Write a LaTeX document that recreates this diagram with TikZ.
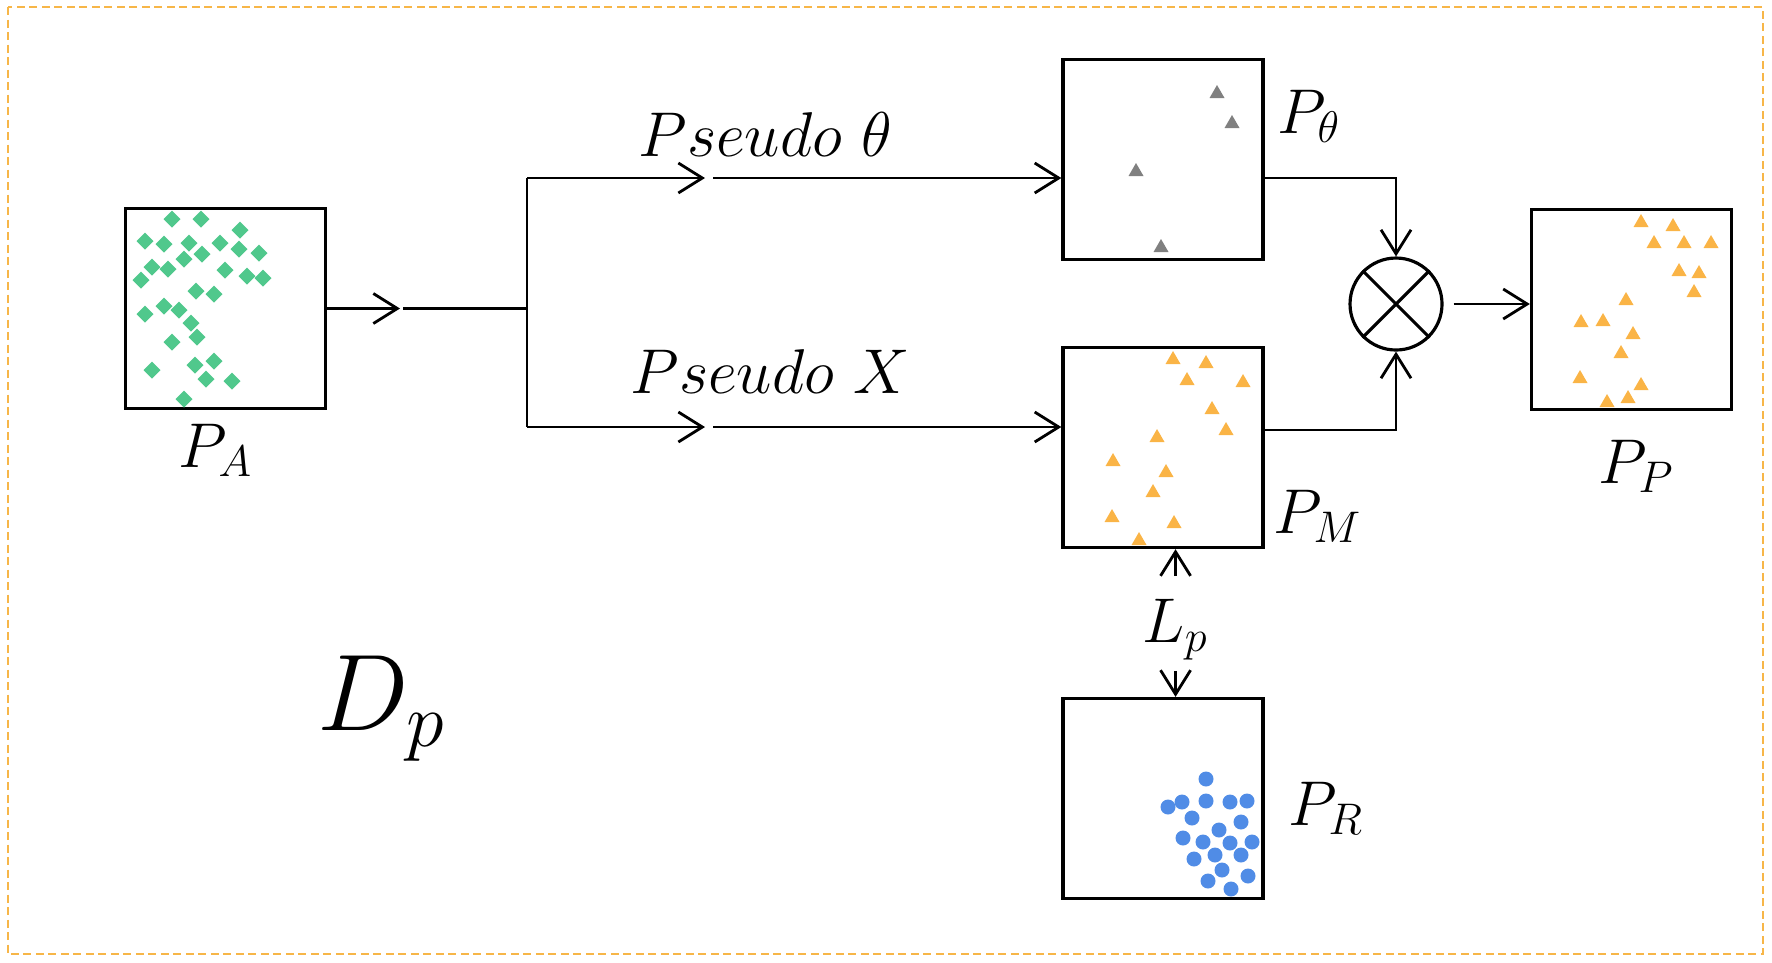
\documentclass[tikz,border=0pt]{standalone}
\usepackage{fix-cm}
\usetikzlibrary{arrows.meta, positioning}
\definecolor{frameorange}{RGB}{247,182,72}
\definecolor{dotgreen}{RGB}{80,200,140}
\definecolor{dotgrey}{RGB}{128,128,128}
\definecolor{dotorange}{RGB}{250,180,70}
\definecolor{dotblue}{RGB}{80,140,230}
\tikzstyle{arrow} = [line width=0.8pt,->,>={Straight Barb[length=2.4mm,width=3mm]}]
\tikzstyle{wire} = [line width=0.8pt]
\tikzstyle{plotbox} = [rectangle, minimum width=20mm, minimum height=20mm, draw=black, line width=0.95pt]
\tikzstyle{mulnode} = [circle, minimum size=9.2mm, inner sep=0pt, draw=black, line width=0.9pt]
\tikzstyle{plabel} = [inner sep=0pt, anchor=base west, font=\fontsize{18}{22}\selectfont]

\begin{document}
\begin{tikzpicture}[x=0.1mm, y=-0.1mm]
	\useasboundingbox (0,0) rectangle (1772,962);
	\draw[frameorange, line width=0.2mm, dash pattern=on 0.8mm off 0.45mm] (8,7) rectangle (1763,954);

	% boxes
	\node (pa) [plotbox] at (225.5,308.5) {};
	\node (pt) [plotbox] at (1163,159.5) {};
	\node (pm) [plotbox] at (1163,447.5) {};
	\node (pr) [plotbox] at (1163,798.5) {};
	\node (pp) [plotbox] at (1631.5,309.5) {};
	\node (mul) [mulnode] at (1396,304) {};
	\draw[line width=0.9pt] (mul.north west) -- (mul.south east) (mul.north east) -- (mul.south west);

	% points
	\foreach \x/\y in {172/219,201/219,240/230,145/241,164/244,189/243,220/243,239/249,259/253,202/254,184/259,152/267,168/269,225/270,247/276,263/278,141/280,196/291,214/294,145/314,164/306,179/310,191/323,197/337,172/342,152/370,195/365,214/361,206/379,232/381,184/399}
		\fill[dotgreen] (\x,\y) +(0,-8.5) -- +(8.5,0) -- +(0,8.5) -- +(-8.5,0) -- cycle;
	\foreach \x/\y in {1217/93,1232/123,1136/171,1161/247}
		\fill[dotgrey] (\x,\y) +(0,-8) -- +(7.5,5) -- +(-7.5,5) -- cycle;
	\foreach \x/\y in {1173/359,1206/363,1187/380,1243/382,1212/409,1226/430,1157/437,1113/461,1166/472,1153/492,1112/517,1174/523,1139/540}
		\fill[dotorange] (\x,\y) +(0,-8) -- +(7.5,5) -- +(-7.5,5) -- cycle;
	\foreach \x/\y in {1641/222,1673/226,1654/243,1684/243,1711/243,1679/271,1699/273,1694/292,1626/300,1581/322,1603/321,1633/334,1621/353,1580/378,1641/385,1628/398,1607/402}
		\fill[dotorange] (\x,\y) +(0,-8) -- +(7.5,5) -- +(-7.5,5) -- cycle;
	\foreach \x/\y in {1206/779,1182/802,1168/807,1206/801,1230/802,1247/801,1192/818,1241/822,1219/830,1183/838,1203/842,1230/843,1252/842,1194/859,1215/855,1241/855,1222/870,1248/876,1208/881,1231/889}
		\fill[dotblue] (\x,\y) circle (0.75mm);

	% labels
	\node (lpa) [plabel] at (178,467) {$P_A$};
	\node (lpt) [plabel] at (1277,133) {$P_\theta$};
	\node (lpm) [plabel] at (1273,533) {$P_M$};
	\node (lpr) [plabel] at (1288,825) {$P_R$};
	\node (lpp) [plabel] at (1598,483) {$P_P$};
	\node (lp) [plabel] at (1142,642) {$L_p$};
	\node (ltheta) [plabel] at (638,156) {$Pseudo\ \theta$};
	\node (lx) [plabel] at (630,393) {$Pseudo\ X$};
	\node (dp) [plabel, font=\fontsize{31}{36}\selectfont] at (317,730) {$D_p$};

	% connectors
	\coordinate (tipa) at (400,308.5);
	\coordinate (split) at (527,308.5);
	\coordinate (uptop) at (527,178);
	\coordinate (upmid) at (705,178);
	\coordinate (lotop) at (527,427);
	\coordinate (lomid) at (705,427);
	\draw[arrow] (pa.east) -- (tipa);
	\draw[wire] ([xshift=0.3mm]tipa) -- (split);
	\draw[wire] (uptop) -- (lotop);
	\draw[arrow] (uptop) -- (upmid);
	\draw[arrow] ([xshift=0.8mm]upmid) -- (upmid -| pt.west);
	\draw[arrow] (lotop) -- (lomid);
	\draw[arrow] ([xshift=0.8mm]lomid) -- (lomid -| pm.west);
	\draw[arrow] (pt.east |- upmid) -| (mul.north);
	\draw[arrow] ([yshift=-0.3mm]pm.east |- lomid) -| (mul.south);
	\draw[arrow, shorten <=1mm] (mul.east) -- (mul.east -| pp.west);
	\draw[arrow] ([yshift=2.2mm]lp.north) -- (lp.north |- pm.south);
	\draw[arrow] ([yshift=-1mm]lp.south) -- (lp.south |- pr.north);
\end{tikzpicture}
\end{document}
